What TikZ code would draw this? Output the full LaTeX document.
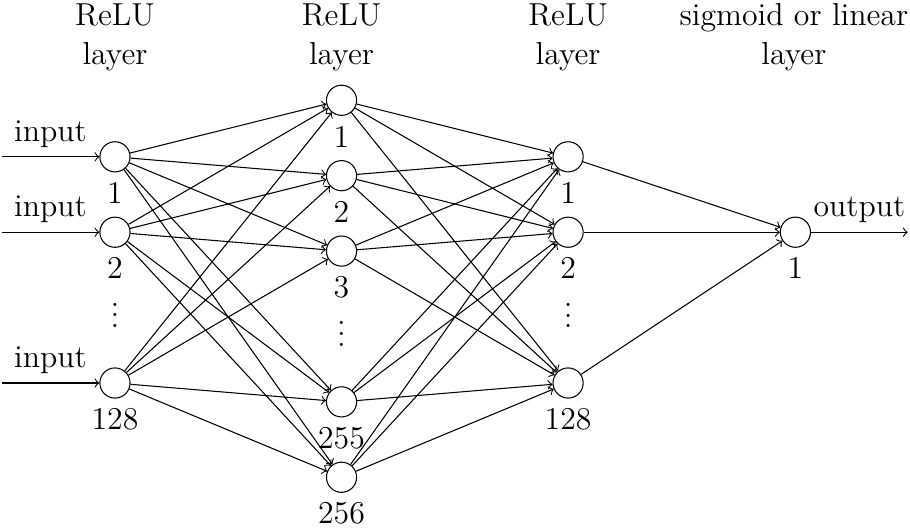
\documentclass[tikz,border=0pt]{standalone}
\begin{document}
\begin{tikzpicture}[
  every node/.style={font=\fontsize{12}{14.5}\selectfont},
  neuron/.style={circle, draw, minimum size=0.4cm, inner sep=0pt},
  conn/.style={->, line width=0.4pt},
  numlab/.style={anchor=base, inner sep=0pt},
  titletext/.style={anchor=base, inner sep=0pt},
  dotsnode/.style={anchor=base, inner sep=0pt}
]
\useasboundingbox (0,0) rectangle (12.07,-7.04);

% titles
\node[titletext] (t1a) at (1.525,-0.34) {ReLU};
\node[titletext] (t1b) at (1.525,-0.85) {layer};
\node[titletext] (t2a) at (4.53,-0.34) {ReLU};
\node[titletext] (t2b) at (4.53,-0.85) {layer};
\node[titletext] (t3a) at (7.535,-0.34) {ReLU};
\node[titletext] (t3b) at (7.535,-0.85) {layer};
\node[titletext] (t4a) at (10.53,-0.34) {sigmoid or linear};
\node[titletext] (t4b) at (10.53,-0.85) {layer};

% layer 1
\node[neuron] (A1) at (1.525,-2.08) {};
\node[neuron] (A2) at (1.525,-3.08) {};
\node[neuron] (A3) at (1.525,-5.08) {};
% layer 2
\node[neuron] (B1) at (4.53,-1.33) {};
\node[neuron] (B2) at (4.53,-2.33) {};
\node[neuron] (B3) at (4.53,-3.33) {};
\node[neuron] (B4) at (4.53,-5.33) {};
\node[neuron] (B5) at (4.53,-6.33) {};
% layer 3
\node[neuron] (C1) at (7.535,-2.08) {};
\node[neuron] (C2) at (7.535,-3.08) {};
\node[neuron] (C3) at (7.535,-5.08) {};
% output
\node[neuron] (O1) at (10.55,-3.08) {};

% number labels
\node[numlab] (A1l) at ([yshift=-0.62cm]A1.center) {1};
\node[numlab] (A2l) at ([yshift=-0.62cm]A2.center) {2};
\node[numlab] (A3l) at ([yshift=-0.62cm]A3.center) {128};
\node[numlab] (B1l) at ([yshift=-0.62cm]B1.center) {1};
\node[numlab] (B2l) at ([yshift=-0.62cm]B2.center) {2};
\node[numlab] (B3l) at ([yshift=-0.62cm]B3.center) {3};
\node[numlab] (B4l) at ([yshift=-0.62cm]B4.center) {255};
\node[numlab] (B5l) at ([yshift=-0.62cm]B5.center) {256};
\node[numlab] (C1l) at ([yshift=-0.62cm]C1.center) {1};
\node[numlab] (C2l) at ([yshift=-0.62cm]C2.center) {2};
\node[numlab] (C3l) at ([yshift=-0.62cm]C3.center) {128};
\node[numlab] (O1l) at ([yshift=-0.62cm]O1.center) {1};

% vertical dots
\node[dotsnode] (Ad) at (1.525,-4.34) {$\vdots$};
\node[dotsnode] (Bd) at (4.53,-4.59) {$\vdots$};
\node[dotsnode] (Cd) at (7.535,-4.35) {$\vdots$};

% inputs
\coordinate (i1) at (0.02,-2.08);
\coordinate (i2) at (0.02,-3.08);
\coordinate (i3) at (0.02,-5.08);
\draw[conn] (i1) -- node[above] (i1l) {input} (A1);
\draw[conn] (i2) -- node[above] (i2l) {input} (A2);
\draw[conn] (i3) -- node[above] (i3l) {input} (A3);

% output
\coordinate (o) at (12.04,-3.08);
\draw[conn] (O1) -- node[above] (ol) {output} (o);

% connections
\foreach \a in {A1,A2,A3}
  \foreach \b in {B1,B2,B3,B4,B5}
    \draw[conn] (\a) -- (\b);
\foreach \b in {B1,B2,B3,B4,B5}
  \foreach \c in {C1,C2,C3}
    \draw[conn] (\b) -- (\c);
\foreach \c in {C1,C2,C3}
  \draw[conn] (\c) -- (O1);
\end{tikzpicture}
\end{document}
